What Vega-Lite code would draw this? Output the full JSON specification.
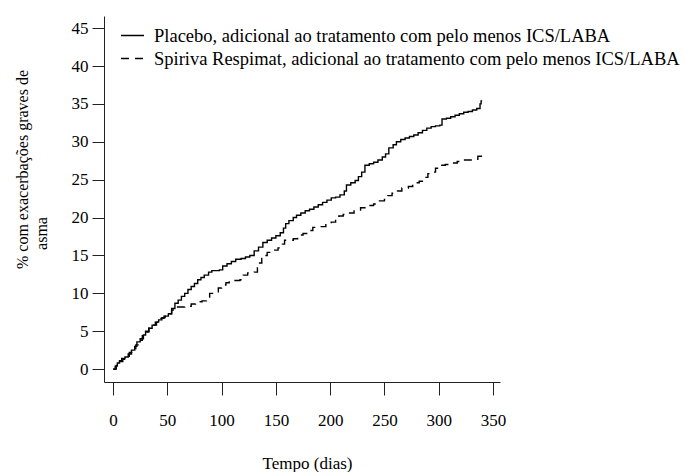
{
  "$schema": "https://vega.github.io/schema/vega-lite/v6.json",
  "width": 396,
  "height": 366,
  "autosize": "none",
  "padding": {"left": 104, "top": 16, "right": 183, "bottom": 90},
  "background": "white",
  "config": {
    "view": {"stroke": null},
    "font": "Times New Roman, Liberation Serif, serif",
    "axis": {"grid": false, "domainColor": "#222", "tickColor": "#222", "labelColor": "#000", "titleColor": "#000", "labelFont": "Times New Roman, Liberation Serif, serif", "titleFont": "Times New Roman, Liberation Serif, serif", "titleFontWeight": "normal", "domainWidth": 1, "tickWidth": 1}
  },
  "data": {"values": [
    {"g":"Placebo","d":0,"p":0},{"g":"Placebo","d":2,"p":0.4},{"g":"Placebo","d":4,"p":0.8},{"g":"Placebo","d":6,"p":1.1},{"g":"Placebo","d":8,"p":1.4},{"g":"Placebo","d":11,"p":1.6},{"g":"Placebo","d":14,"p":2.0},{"g":"Placebo","d":17,"p":2.5},{"g":"Placebo","d":20,"p":3.0},{"g":"Placebo","d":22,"p":3.6},{"g":"Placebo","d":25,"p":4.0},{"g":"Placebo","d":28,"p":4.5},{"g":"Placebo","d":30,"p":4.9},{"g":"Placebo","d":33,"p":5.4},{"g":"Placebo","d":36,"p":5.8},{"g":"Placebo","d":39,"p":6.2},{"g":"Placebo","d":42,"p":6.5},{"g":"Placebo","d":45,"p":6.8},{"g":"Placebo","d":48,"p":7.0},{"g":"Placebo","d":51,"p":7.3},{"g":"Placebo","d":54,"p":8.0},{"g":"Placebo","d":57,"p":8.7},{"g":"Placebo","d":60,"p":9.1},{"g":"Placebo","d":63,"p":9.6},{"g":"Placebo","d":66,"p":10.0},{"g":"Placebo","d":69,"p":10.5},{"g":"Placebo","d":72,"p":10.9},{"g":"Placebo","d":75,"p":11.3},{"g":"Placebo","d":78,"p":11.8},{"g":"Placebo","d":81,"p":12.1},{"g":"Placebo","d":84,"p":12.4},{"g":"Placebo","d":88,"p":12.8},{"g":"Placebo","d":91,"p":13.0},{"g":"Placebo","d":98,"p":13.1},{"g":"Placebo","d":101,"p":13.6},{"g":"Placebo","d":105,"p":13.9},{"g":"Placebo","d":109,"p":14.2},{"g":"Placebo","d":113,"p":14.5},{"g":"Placebo","d":118,"p":14.6},{"g":"Placebo","d":122,"p":14.8},{"g":"Placebo","d":126,"p":15.0},{"g":"Placebo","d":130,"p":15.6},{"g":"Placebo","d":134,"p":16.1},{"g":"Placebo","d":138,"p":16.7},{"g":"Placebo","d":142,"p":17.0},{"g":"Placebo","d":146,"p":17.3},{"g":"Placebo","d":150,"p":17.6},{"g":"Placebo","d":154,"p":18.0},{"g":"Placebo","d":157,"p":18.6},{"g":"Placebo","d":159,"p":19.2},{"g":"Placebo","d":162,"p":19.6},{"g":"Placebo","d":166,"p":20.0},{"g":"Placebo","d":169,"p":20.3},{"g":"Placebo","d":173,"p":20.6},{"g":"Placebo","d":177,"p":20.9},{"g":"Placebo","d":181,"p":21.1},{"g":"Placebo","d":185,"p":21.4},{"g":"Placebo","d":189,"p":21.7},{"g":"Placebo","d":193,"p":22.0},{"g":"Placebo","d":197,"p":22.3},{"g":"Placebo","d":201,"p":22.6},{"g":"Placebo","d":205,"p":22.7},{"g":"Placebo","d":209,"p":23.0},{"g":"Placebo","d":213,"p":23.5},{"g":"Placebo","d":215,"p":24.3},{"g":"Placebo","d":219,"p":24.6},{"g":"Placebo","d":223,"p":24.9},{"g":"Placebo","d":226,"p":25.4},{"g":"Placebo","d":229,"p":26.0},{"g":"Placebo","d":232,"p":26.9},{"g":"Placebo","d":236,"p":27.1},{"g":"Placebo","d":240,"p":27.3},{"g":"Placebo","d":244,"p":27.6},{"g":"Placebo","d":248,"p":28.0},{"g":"Placebo","d":251,"p":28.4},{"g":"Placebo","d":254,"p":29.2},{"g":"Placebo","d":258,"p":29.6},{"g":"Placebo","d":261,"p":30.0},{"g":"Placebo","d":265,"p":30.3},{"g":"Placebo","d":269,"p":30.5},{"g":"Placebo","d":273,"p":30.7},{"g":"Placebo","d":277,"p":30.9},{"g":"Placebo","d":281,"p":31.2},{"g":"Placebo","d":285,"p":31.5},{"g":"Placebo","d":289,"p":31.8},{"g":"Placebo","d":293,"p":32.0},{"g":"Placebo","d":297,"p":32.1},{"g":"Placebo","d":301,"p":32.2},{"g":"Placebo","d":303,"p":33.0},{"g":"Placebo","d":307,"p":33.1},{"g":"Placebo","d":311,"p":33.3},{"g":"Placebo","d":315,"p":33.5},{"g":"Placebo","d":319,"p":33.7},{"g":"Placebo","d":323,"p":33.9},{"g":"Placebo","d":327,"p":34.0},{"g":"Placebo","d":331,"p":34.2},{"g":"Placebo","d":335,"p":34.4},{"g":"Placebo","d":338,"p":35.0},{"g":"Placebo","d":339,"p":35.4},{"g":"Placebo","d":340,"p":35.4},
    {"g":"Spiriva","d":0,"p":0},{"g":"Spiriva","d":3,"p":0.5},{"g":"Spiriva","d":6,"p":1.0},{"g":"Spiriva","d":9,"p":1.3},{"g":"Spiriva","d":12,"p":1.7},{"g":"Spiriva","d":15,"p":2.2},{"g":"Spiriva","d":18,"p":2.7},{"g":"Spiriva","d":21,"p":3.2},{"g":"Spiriva","d":24,"p":3.8},{"g":"Spiriva","d":27,"p":4.4},{"g":"Spiriva","d":30,"p":5.0},{"g":"Spiriva","d":33,"p":5.4},{"g":"Spiriva","d":36,"p":5.8},{"g":"Spiriva","d":40,"p":6.2},{"g":"Spiriva","d":43,"p":6.7},{"g":"Spiriva","d":47,"p":7.0},{"g":"Spiriva","d":50,"p":7.3},{"g":"Spiriva","d":54,"p":7.8},{"g":"Spiriva","d":58,"p":8.2},{"g":"Spiriva","d":66,"p":8.3},{"g":"Spiriva","d":72,"p":8.6},{"g":"Spiriva","d":76,"p":8.9},{"g":"Spiriva","d":82,"p":9.0},{"g":"Spiriva","d":86,"p":9.5},{"g":"Spiriva","d":89,"p":10.0},{"g":"Spiriva","d":93,"p":10.2},{"g":"Spiriva","d":97,"p":10.7},{"g":"Spiriva","d":100,"p":11.1},{"g":"Spiriva","d":104,"p":11.4},{"g":"Spiriva","d":107,"p":11.7},{"g":"Spiriva","d":117,"p":11.8},{"g":"Spiriva","d":120,"p":12.4},{"g":"Spiriva","d":124,"p":12.7},{"g":"Spiriva","d":130,"p":12.8},{"g":"Spiriva","d":133,"p":13.4},{"g":"Spiriva","d":135,"p":14.0},{"g":"Spiriva","d":137,"p":14.6},{"g":"Spiriva","d":139,"p":15.0},{"g":"Spiriva","d":142,"p":15.4},{"g":"Spiriva","d":147,"p":15.7},{"g":"Spiriva","d":152,"p":16.0},{"g":"Spiriva","d":156,"p":16.5},{"g":"Spiriva","d":158,"p":17.0},{"g":"Spiriva","d":166,"p":17.2},{"g":"Spiriva","d":170,"p":17.7},{"g":"Spiriva","d":175,"p":17.9},{"g":"Spiriva","d":180,"p":18.3},{"g":"Spiriva","d":184,"p":18.7},{"g":"Spiriva","d":190,"p":18.8},{"g":"Spiriva","d":196,"p":19.2},{"g":"Spiriva","d":201,"p":19.4},{"g":"Spiriva","d":205,"p":19.8},{"g":"Spiriva","d":208,"p":20.2},{"g":"Spiriva","d":212,"p":20.4},{"g":"Spiriva","d":217,"p":20.6},{"g":"Spiriva","d":222,"p":21.0},{"g":"Spiriva","d":228,"p":21.3},{"g":"Spiriva","d":234,"p":21.6},{"g":"Spiriva","d":240,"p":21.8},{"g":"Spiriva","d":244,"p":22.2},{"g":"Spiriva","d":250,"p":22.4},{"g":"Spiriva","d":253,"p":22.9},{"g":"Spiriva","d":257,"p":23.2},{"g":"Spiriva","d":262,"p":23.5},{"g":"Spiriva","d":266,"p":23.9},{"g":"Spiriva","d":272,"p":24.1},{"g":"Spiriva","d":276,"p":24.6},{"g":"Spiriva","d":282,"p":24.8},{"g":"Spiriva","d":286,"p":25.3},{"g":"Spiriva","d":290,"p":25.8},{"g":"Spiriva","d":294,"p":26.0},{"g":"Spiriva","d":297,"p":26.5},{"g":"Spiriva","d":300,"p":26.9},{"g":"Spiriva","d":306,"p":27.0},{"g":"Spiriva","d":311,"p":27.2},{"g":"Spiriva","d":317,"p":27.4},{"g":"Spiriva","d":322,"p":27.6},{"g":"Spiriva","d":332,"p":27.7},{"g":"Spiriva","d":336,"p":28.1},{"g":"Spiriva","d":341,"p":28.3}
  ]},
  "mark": {"type": "line", "interpolate": "step-after", "color": "#000", "strokeWidth": 1.4},
  "encoding": {
    "x": {"field": "d", "type": "quantitative",
      "scale": {"domain": [-8.3, 356.4], "nice": false, "zero": false},
      "axis": {"values": [0,50,100,150,200,250,300,350], "tickSize": 13, "labelFontSize": 17, "labelPadding": 17, "title": "Tempo (dias)", "titleFontSize": 17, "titlePadding": 27, "titleX": 203}},
    "y": {"field": "p", "type": "quantitative",
      "scale": {"domain": [-1.7, 46.6], "nice": false, "zero": false},
      "axis": {"values": [0,5,10,15,20,25,30,35,40,45], "tickSize": 12, "labelFontSize": 17, "labelPadding": 4, "title": ["% com exacerbações graves de", "asma\u00a0\u00a0\u00a0\u00a0\u00a0\u00a0\u00a0\u00a0\u00a0\u00a0\u00a0\u00a0\u00a0\u00a0\u00a0\u00a0\u00a0\u00a0\u00a0\u00a0\u00a0\u00a0\u00a0\u00a0\u00a0\u00a0\u00a0\u00a0\u00a0\u00a0\u00a0\u00a0\u200b"], "titleFontSize": 16, "titlePadding": 22, "titleY": 153, "titleLineHeight": 19}},
    "strokeDash": {"field": "g", "type": "nominal",
      "scale": {"domain": ["Placebo", "Spiriva"], "range": [[1,0],[8,6]]},
      "legend": {"orient": "none", "legendX": 16, "legendY": 7, "title": null, "symbolType": "stroke", "symbolSize": 529, "symbolStrokeWidth": 1.3, "symbolStrokeColor": "#000", "labelFont": "Times New Roman, Liberation Serif, serif", "labelFontSize": 18.5, "labelColor": "#000", "labelOffset": 9, "rowPadding": 1, "padding": 0, "labelLimit": 600,
        "labelExpr": "datum.value == 'Placebo' ? 'Placebo, adicional ao tratamento com pelo menos ICS/LABA' : 'Spiriva Respimat, adicional ao tratamento com pelo menos ICS/LABA'"}}
  }
}
